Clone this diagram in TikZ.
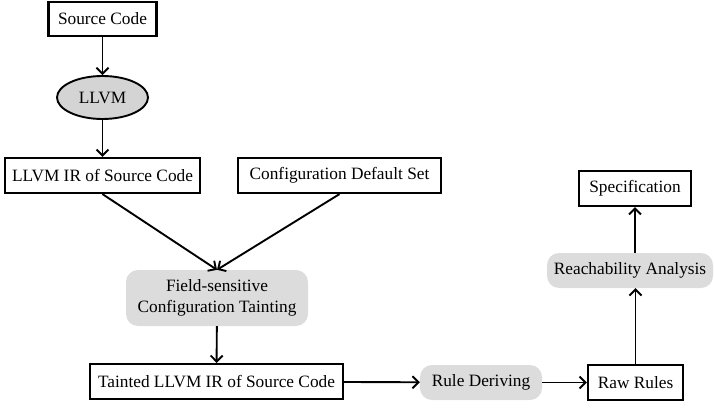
\documentclass[tikz,border=0pt]{standalone}
\usepackage{fontspec}
\setmainfont{Liberation Serif}
\usetikzlibrary{arrows.meta,shapes.geometric}
\definecolor{procgray}{HTML}{DCDCDC}
\definecolor{ellgray}{HTML}{D4D4D4}
\begin{document}
\begin{tikzpicture}[x=1pt,y=-1pt,
  every node/.style={font=\fontsize{17.3}{21.5}\selectfont, inner sep=0pt, align=center},
  databox/.style={draw=black, line width=2.2pt, minimum height=35pt},
  procbox/.style={fill=procgray, rounded corners=12pt, minimum height=35pt},
  arr/.style={line width=1.9pt, -{Straight Barb[length=6pt,width=12pt,line width=1.9pt]}}]
\useasboundingbox (0,0) rectangle (714,409);

\node[databox, minimum width=108pt, minimum height=34pt] (src) at (102.5,19) {Source Code};
\node[ellipse, draw=black, line width=1.9pt, fill=ellgray, minimum width=91pt, minimum height=43pt] (llvm) at (102.5,97.5) {LLVM};
\node[databox, minimum width=195pt] (ir) at (102.5,175.5) {LLVM IR of Source Code};
\node[databox, minimum width=203pt] (cfg) at (339.5,175.5) {Configuration Default Set};
\node[procbox, minimum width=182pt, minimum height=56pt] (fst) at (217,298) {Field-sensitive\\Configuration Tainting};
\node[databox, minimum width=253pt] (tir) at (216.5,381.5) {Tainted LLVM IR of Source Code};
\node[procbox, minimum width=122pt] (rd) at (481,382.5) {Rule Deriving};
\node[databox, minimum width=95pt] (raw) at (635.5,382.5) {Raw Rules};
\node[procbox, minimum width=166pt] (reach) at (630,270.5) {Reachability Analysis};
\node[databox, minimum width=112pt] (spec) at (635,188.5) {Specification};

\draw[arr] (src) -- (llvm);
\draw[arr] (llvm) -- (ir);
\draw[arr] (ir.south) -- (fst.north);
\draw[arr] (cfg.south) -- (fst.north);
\draw[arr] (fst) -- (tir);
\draw[arr] (tir) -- (rd);
\draw[arr] (rd) -- (raw);
\draw[arr] (raw.north) -- (raw.north |- reach.south);
\draw[arr] (reach.north -| spec) -- (spec.south);
\end{tikzpicture}
\end{document}
